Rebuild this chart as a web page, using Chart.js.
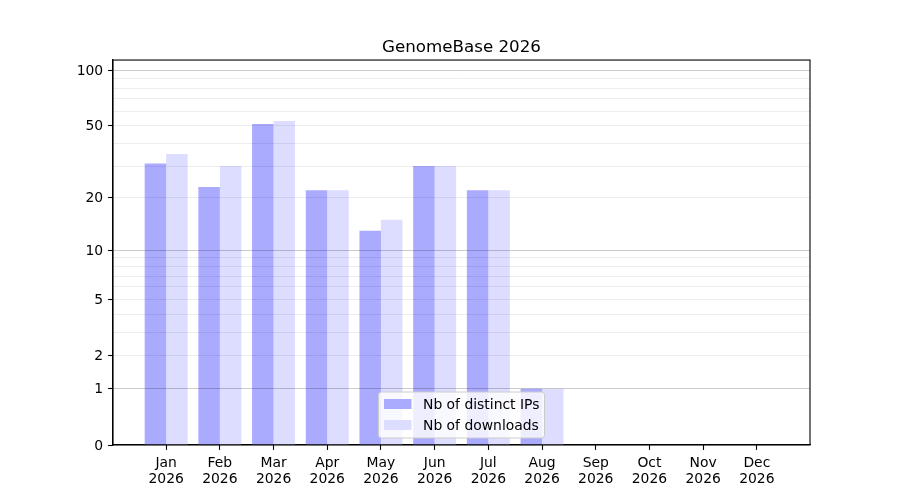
<!DOCTYPE html>
<html>
<head>
<meta charset="utf-8">
<script src="https://cdn.jsdelivr.net/npm/chart.js@4.4.1/dist/chart.umd.min.js"></script>
<style>
  html, body { margin: 0; padding: 0; background: #fff; }
  #wrap { width: 900px; height: 500px; }
</style>
</head>
<body>
<div id="wrap"><canvas id="chart" width="900" height="500"></canvas></div>
<script>
const months = ['Jan', 'Feb', 'Mar', 'Apr', 'May', 'Jun', 'Jul', 'Aug', 'Sep', 'Oct', 'Nov', 'Dec'];
const year = '2026';
const distinctIps = [31, 23, 51, 22, 13, 30, 22, 1, 0, 0, 0, 0];
const downloads = [35, 30, 53, 22, 15, 30, 22, 1, 0, 0, 0, 0];
const yTickLabels = [0, 1, 2, 5, 10, 20, 50, 100];
const yMajorValues = [1, 10, 100];
const yGridValues = [0, 1, 2, 3, 4, 5, 6, 7, 8, 9, 10, 20, 30, 40, 50, 60, 70, 80, 90, 100];

const log1p = v => Math.log10(1 + v);

// y axis drawn as log10(1 + v), so that zero stays on the axis
class Log1pScale extends Chart.Scale {
    determineDataLimits() {
        this.min = 0;
        this.max = this.options.max;
    }
    buildTicks() {
        return yGridValues.map(v => ({ value: v }));
    }
    configure() {
        super.configure();
        this._start = log1p(this.min);
        this._range = log1p(this.max) - this._start;
    }
    getLabelForValue(v) {
        return String(v);
    }
    getPixelForValue(v) {
        return this.getPixelForDecimal((log1p(v) - this._start) / this._range);
    }
    getValueForPixel(p) {
        return Math.pow(10, this._start + this.getDecimalForPixel(p) * this._range) - 1;
    }
}
Log1pScale.id = 'log1p';
Log1pScale.defaults = {};
Chart.register(Log1pScale);

// top and right spines + legend box inside the axes (lower center)
const framePlugin = {
    id: 'frame',
    afterDraw(chart) {
        const { ctx, chartArea: a } = chart;
        ctx.save();
        ctx.strokeStyle = '#000';
        ctx.lineWidth = 1.1;
        ctx.strokeRect(a.left, a.top, a.right - a.left, a.bottom - a.top);

        const w = 166, h = 46;
        const x = (a.left + a.right) / 2 - w / 2;
        const y = a.bottom - 7 - h;
        ctx.beginPath();
        ctx.roundRect(x, y, w, h, 3);
        ctx.fillStyle = 'rgba(255,255,255,0.8)';
        ctx.fill();
        ctx.strokeStyle = '#cccccc';
        ctx.lineWidth = 1;
        ctx.stroke();

        ctx.font = '13.9px "DejaVu Sans"';
        ctx.textBaseline = 'alphabetic';
        ctx.textAlign = 'left';
        chart.data.datasets.forEach((ds, i) => {
            const ry = y + 7 + i * 21;
            ctx.fillStyle = '#ffffff';
            ctx.fillRect(x + 5.5, ry, 27.5, 10);
            ctx.fillStyle = ds.backgroundColor;
            ctx.fillRect(x + 5.5, ry, 27.5, 10);
            ctx.fillStyle = '#000';
            ctx.fillText(ds.label, x + 44.5, ry + 10);
        });
        ctx.restore();
    }
};

Chart.defaults.font.family = '"DejaVu Sans"';
Chart.defaults.font.size = 13.9;
Chart.defaults.color = '#000';

new Chart(document.getElementById('chart'), {
    type: 'bar',
    data: {
        datasets: [
            {
                label: 'Nb of distinct IPs',
                data: distinctIps.map((v, i) => ({ x: i, y: v })),
                backgroundColor: 'rgba(170, 170, 255, 1)',
                borderWidth: 0
            },
            {
                label: 'Nb of downloads',
                data: downloads.map((v, i) => ({ x: i, y: v })),
                backgroundColor: 'rgba(221, 221, 255, 1)',
                borderWidth: 0
            }
        ]
    },
    options: {
        responsive: false,
        animation: false,
        devicePixelRatio: 1,
        categoryPercentage: 0.8,
        barPercentage: 1.0,
        layout: { padding: { left: 0, right: 90, top: 0, bottom: 0 } },
        plugins: {
            legend: { display: false },
            tooltip: { enabled: false },
            title: {
                display: true,
                // only as wide as the axes, so it centres over them
                fullSize: false,
                text: 'GenomeBase 2026',
                color: '#000',
                font: { size: 16.7, weight: 'normal', lineHeight: 1.2 },
                padding: { top: 38, bottom: 2 }
            }
        },
        scales: {
            x: {
                type: 'linear',
                offset: false,
                min: -0.99,
                max: 11.99,
                afterBuildTicks: scale => {
                    scale.ticks = months.map((m, i) => ({ value: i }));
                },
                afterFit: scale => { scale.height = 55; },
                grid: {
                    display: true,
                    offset: false,
                    drawOnChartArea: false,
                    drawTicks: true,
                    tickLength: 4.9,
                    tickColor: '#000',
                    tickWidth: 1.1
                },
                border: { display: true, color: '#000', width: 1.1 },
                ticks: {
                    autoSkip: false,
                    maxRotation: 0,
                    padding: 4.9,
                    font: { lineHeight: 1.2 },
                    callback: v => [months[v], year]
                }
            },
            y: {
                type: 'log1p',
                max: 113.4,
                afterFit: scale => { scale.width = 113; },
                grid: {
                    z: 1,
                    tickLength: 4.9,
                    tickWidth: 1.1,
                    lineWidth: 1,
                    color: c => {
                        const v = c.tick && c.tick.value;
                        if (v === 0) return 'rgba(0,0,0,0)';
                        return yMajorValues.includes(v) ? 'rgba(0,0,0,0.2)' : 'rgba(0,0,0,0.07)';
                    },
                    tickColor: c => yTickLabels.includes(c.tick && c.tick.value) ? '#000' : 'rgba(0,0,0,0)'
                },
                border: { display: true, color: '#000', width: 1.1, z: 1 },
                ticks: {
                    autoSkip: false,
                    padding: 4.9,
                    labelOffset: 1,
                    callback: v => yTickLabels.includes(v) ? String(v) : ''
                }
            }
        }
    },
    plugins: [framePlugin]
});
</script>
</body>
</html>
